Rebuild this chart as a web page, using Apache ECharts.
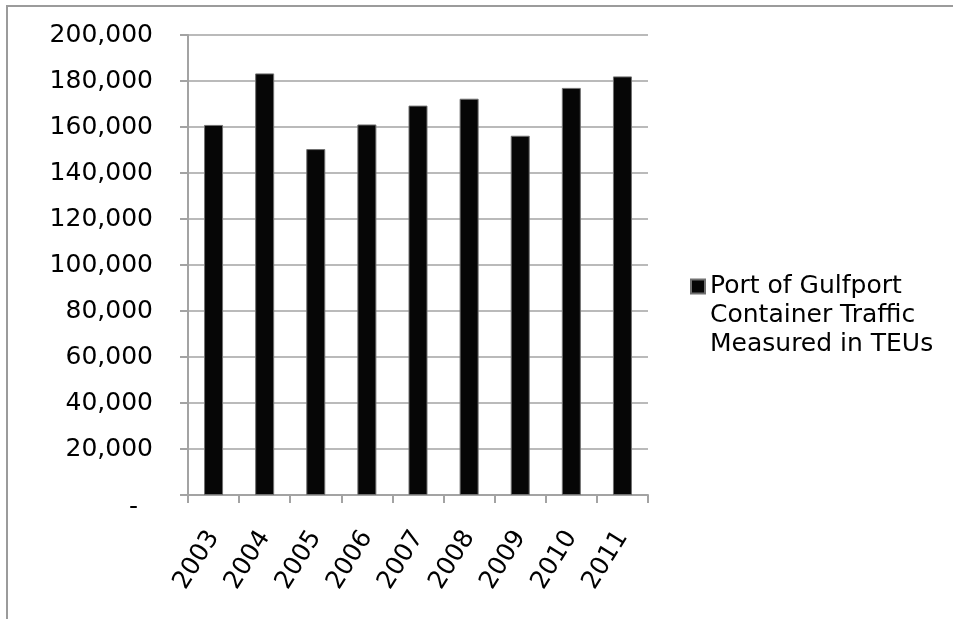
<!DOCTYPE html>
<html>
<head>
<meta charset="utf-8">
<script src="https://cdn.jsdelivr.net/npm/echarts@6/dist/echarts.min.js"></script>
<style>
html,body{margin:0;padding:0;background:#fff;}
#chart{width:953px;height:619px;}
</style>
</head>
<body>
<div id="chart"></div>
<script>
const categories = ['2003','2004','2005','2006','2007','2008','2009','2010','2011'];
const teuValues = [160900, 183300, 150400, 161100, 169300, 172300, 156200, 177000, 182000];
const seriesName = 'Port of Gulfport Container Traffic Measured in TEUs';
const legendLines = ['Port of Gulfport', 'Container Traffic', 'Measured in TEUs'];
const yMin = 0, yMax = 200000, yStep = 20000;

const chart = echarts.init(document.getElementById('chart'), null, {renderer: 'canvas'});
const FONT = 'DejaVu Sans';
const GRAY = '#a3a3a3';

chart.setOption({
  animation: false,
  backgroundColor: '#ffffff',
  graphic: [{
    type: 'rect',
    z: -10,
    shape: {x: 7, y: 6, width: 1200, height: 1200},
    style: {fill: 'none', stroke: '#9b9b9b', lineWidth: 2}
  }],
  grid: {left: 188, right: 305, top: 35, bottom: 124, containLabel: false},
  legend: {
    left: 685,
    top: 209,
    orient: 'vertical',
    itemWidth: 14,
    itemHeight: 14,
    itemGap: 5,
    icon: 'rect',
    data: [seriesName],
    formatter: function () { return '\n\n' + legendLines.join('\n'); },
    textStyle: {
      fontFamily: FONT, fontSize: 25, color: '#000', lineHeight: 29
    }
  },
  xAxis: {
    type: 'category',
    data: categories,
    boundaryGap: true,
    axisLine: {show: true, lineStyle: {color: GRAY, width: 2}},
    axisTick: {show: true, length: 8, alignWithLabel: false, lineStyle: {color: GRAY, width: 2}},
    axisLabel: {
      interval: 0, rotate: 58, margin: 38,
      fontFamily: FONT, fontSize: 25, color: '#000'
    },
    splitLine: {show: false}
  },
  yAxis: {
    type: 'value',
    min: yMin, max: yMax, interval: yStep,
    axisLine: {show: true, lineStyle: {color: GRAY, width: 2}},
    axisTick: {show: true, length: 8, lineStyle: {color: GRAY, width: 2}},
    splitLine: {show: true, lineStyle: {color: GRAY, width: 1.5}},
    axisLabel: {
      margin: 35,
      fontFamily: FONT, fontSize: 25, color: '#000',
      formatter: function (v) {
        if (v === 0) return '{z|-}';
        return v.toLocaleString('en-US');
      },
      rich: {
        z: {fontFamily: FONT, fontSize: 25, color: '#000', padding: [24, 15, 0, 0]}
      }
    }
  },
  series: [{
    name: seriesName,
    type: 'bar',
    data: teuValues,
    barWidth: 19,
    itemStyle: {color: '#060606', borderColor: '#707070', borderWidth: 1}
  }]
});
</script>
</body>
</html>
